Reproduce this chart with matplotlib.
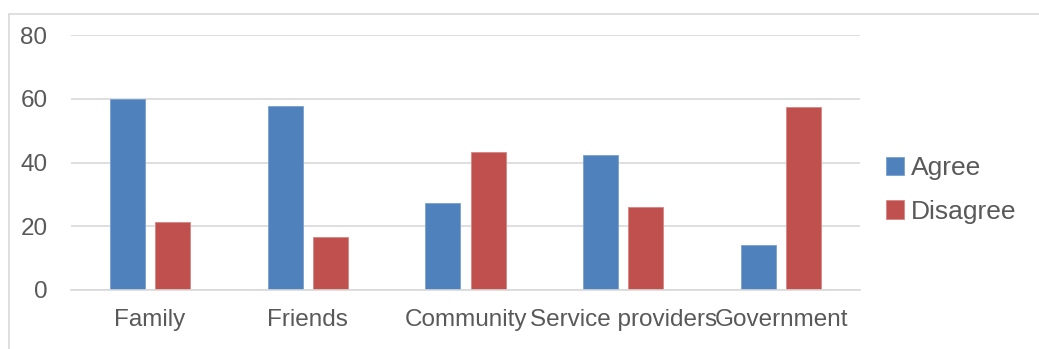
import matplotlib.pyplot as plt
import numpy as np
from matplotlib.patches import Rectangle

categories = ['Family', 'Friends', 'Community', 'Service providers', 'Government']
agree = [60, 57.7, 27.4, 42.5, 14.1]
disagree = [21.3, 16.6, 43.3, 26.1, 57.5]

plt.rcParams['font.family'] = ['Liberation Sans', 'DejaVu Sans']
txt = '#595959'

fig = plt.figure(figsize=(10.39, 3.49), dpi=100)
ax = fig.add_axes([71 / 1039, (349 - 290) / 349, (860 - 71) / 1039, (290 - 35) / 349])

x = np.arange(len(categories))
w = 0.222
off = 0.143
ax.bar(x - off, agree, w, color='#4f81bd', label='Agree', edgecolor='#7aa0d0', linewidth=0.6)
ax.bar(x + off, disagree, w, color='#c0504d', label='Disagree', edgecolor='#d88583', linewidth=0.6)

ax.set_xlim(-0.5, len(categories) - 0.5)
ax.set_ylim(0, 80)
ax.set_yticks([0, 20, 40, 60, 80])
ax.set_xticks(x)
ax.set_xticklabels(categories)
ax.yaxis.grid(True, color='#d9d9d9', linewidth=1.2)
ax.set_axisbelow(True)
for s in ['top', 'right', 'left']:
    ax.spines[s].set_visible(False)
ax.spines['bottom'].set_color('#d9d9d9')
ax.spines['bottom'].set_linewidth(1.2)
ax.tick_params(axis='both', length=0, labelsize=17.5, colors=txt)
ax.tick_params(axis='y', pad=17)
ax.tick_params(axis='x', pad=14)

leg = fig.legend(loc='center left', bbox_to_anchor=(886 / 1039, 1 - 190 / 349), frameon=False,
                 fontsize=19, handlelength=0.7, handleheight=0.7, handletextpad=0.25,
                 labelspacing=0.75, labelcolor=txt, borderpad=0, borderaxespad=0)

fig.patches.append(Rectangle((9 / 1039, -0.1), 1.2, 1 - 14 / 349 + 0.1, transform=fig.transFigure,
                             fill=False, edgecolor='#d9d9d9', linewidth=1.2))

fig.savefig('out.png', dpi=100)
